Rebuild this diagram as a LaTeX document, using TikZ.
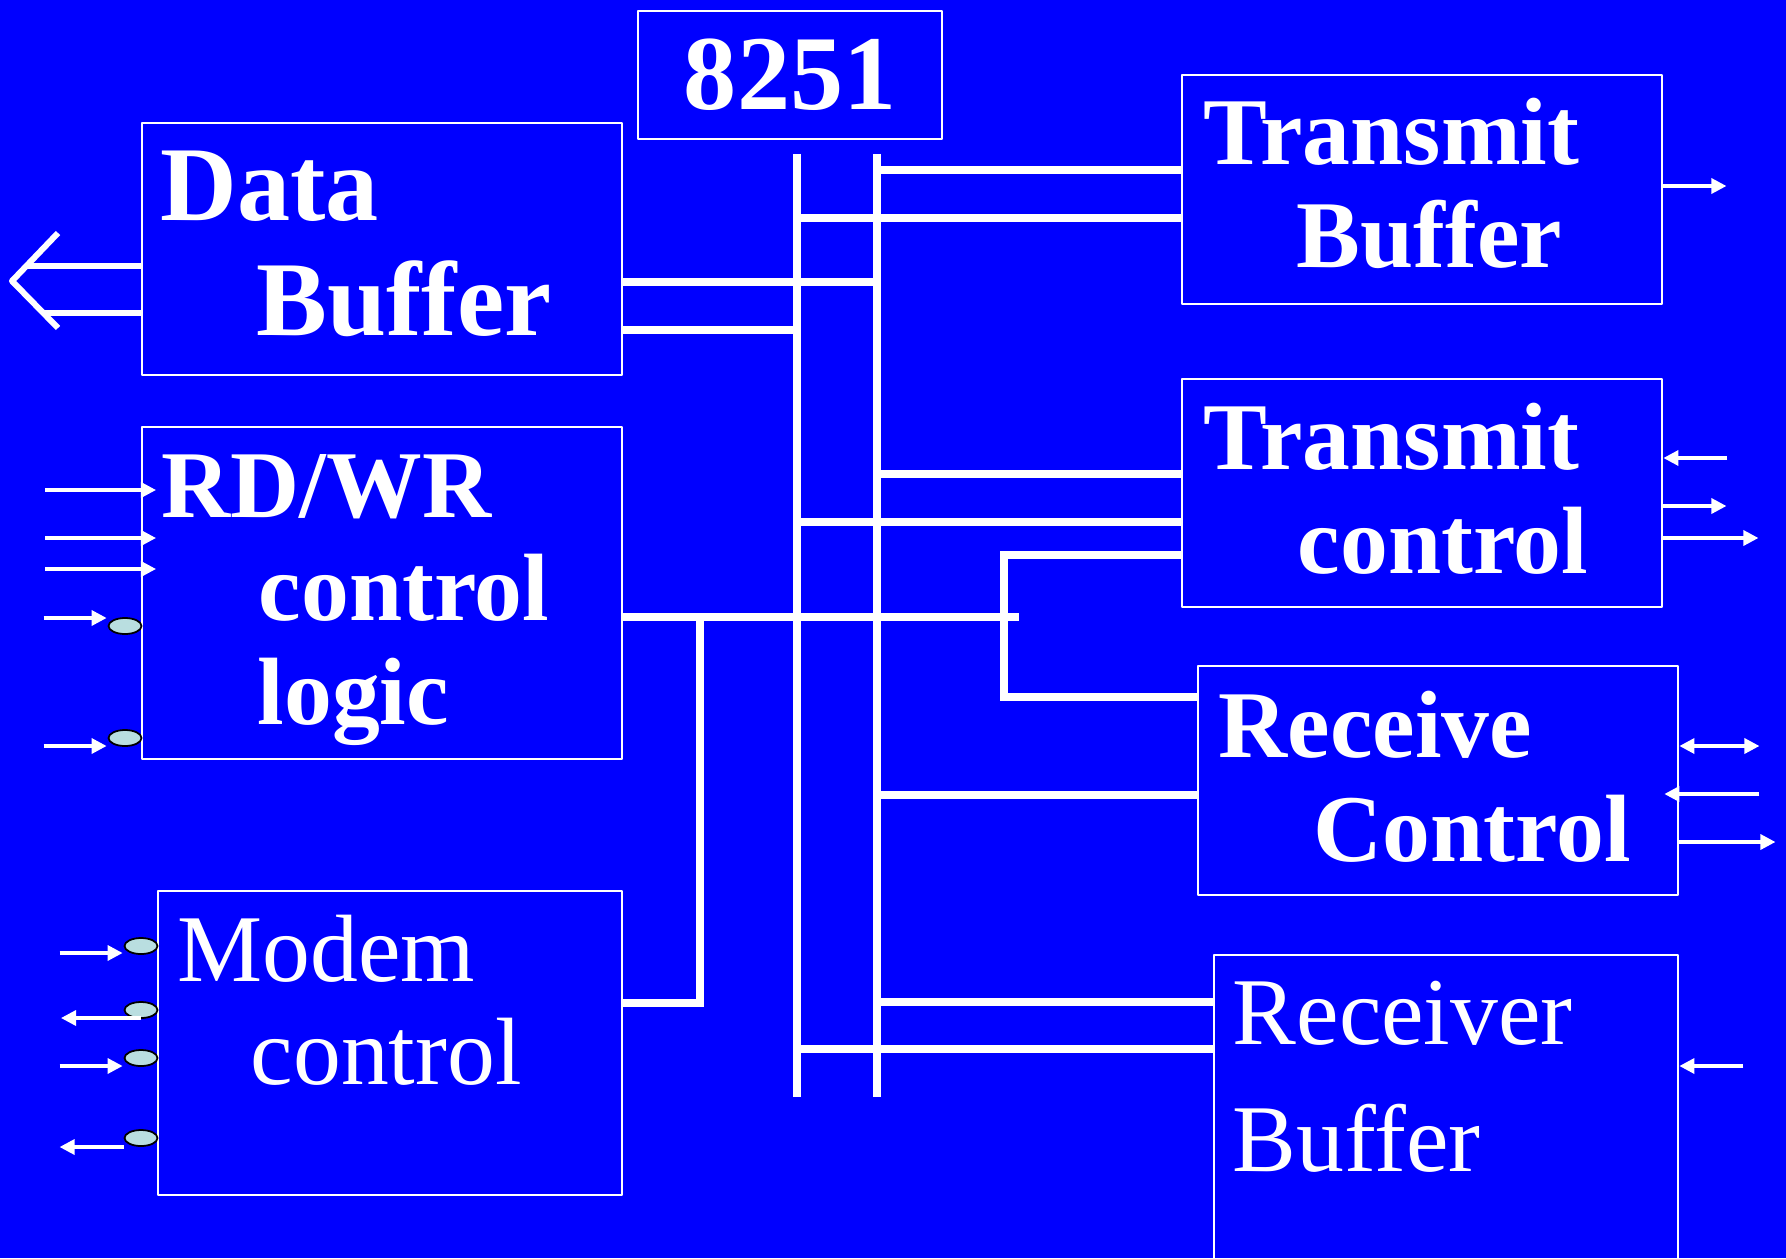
\documentclass[tikz,border=0pt]{standalone}
\usepackage{fontspec}
\setmainfont{Liberation Serif}
\usetikzlibrary{arrows.meta,shapes.geometric}
\definecolor{slideblue}{RGB}{0,0,255}
\definecolor{pinfill}{RGB}{185,222,224}
\newcommand\lblbig{\fontsize{30.2}{32}\selectfont\bfseries}
\newcommand\lblbf{\fontsize{27.2}{30}\selectfont\bfseries}
\newcommand\lblrm{\fontsize{27.2}{30}\selectfont}

\begin{document}
\begin{tikzpicture}[x=0.01cm, y=-0.01cm, line join=round, >={Triangle[length=0.15cm, width=0.15cm]},
		blk/.style={draw=white, line width=0.6pt, anchor=north west, inner sep=0pt, text=white},
		bus/.style={white, line width=2.3pt, line join=miter},
		sig/.style={white, line width=0.95pt, ->},
		pin/.style={ellipse, draw=black, line width=0.5pt, fill=pinfill, minimum width=0.33cm, minimum height=0.16cm, inner sep=0pt},
		lbl/.style={text=white, inner sep=0pt, anchor=base west}]
		\fill[slideblue] (0,0) rectangle (1786,1258);
		\useasboundingbox (0,0) rectangle (1786,1258);
		% blocks
		\node[blk, minimum width=3.04cm, minimum height=1.28cm, font=\lblbig] (chip) at (637,10) {8251};
		\node[blk, minimum width=4.80cm, minimum height=2.52cm] (db) at (141,122) {};
		\node[blk, minimum width=4.80cm, minimum height=3.32cm] (rw) at (141,426) {};
		\node[blk, minimum width=4.64cm, minimum height=3.04cm] (modem) at (157,890) {};
		\node[blk, minimum width=4.80cm, minimum height=2.29cm] (tb) at (1181,74) {};
		\node[blk, minimum width=4.80cm, minimum height=2.28cm] (tc) at (1181,378) {};
		\node[blk, minimum width=4.80cm, minimum height=2.29cm] (rc) at (1197,665) {};
		\node[blk, minimum width=4.64cm, minimum height=3.30cm] (rb) at (1213,954) {};
		% labels
		\node[lbl, font=\lblbig] (dbA) at (160,221) {Data};
		\node[lbl, font=\lblbig] (dbB) at (256,336) {Buffer};
		\node[lbl, font=\lblbf] (rwA) at (161,517) {RD/WR};
		\node[lbl, font=\lblbf] (rwB) at (258,620) {control};
		\node[lbl, font=\lblbf] (rwC) at (257,724) {logic};
		\node[lbl, font=\lblrm] (modemA) at (177,981) {Modem};
		\node[lbl, font=\lblrm] (modemB) at (250,1084) {control};
		\node[lbl, font=\lblbf] (tbA) at (1203,165) {Transmit};
		\node[lbl, font=\lblbf] (tbB) at (1296,268) {Buffer};
		\node[lbl, font=\lblbf] (tcA) at (1203,469) {Transmit};
		\node[lbl, font=\lblbf] (tcB) at (1297,573) {control};
		\node[lbl, font=\lblbf] (rcA) at (1218,757) {Receive};
		\node[lbl, font=\lblbf] (rcB) at (1313,861) {Control};
		\node[lbl, font=\lblrm] (rbA) at (1232,1044) {Receiver};
		\node[lbl, font=\lblrm] (rbB) at (1232,1171) {Buffer};
		% internal bus
		\coordinate (busA) at (797,154);
		\coordinate (busB) at (877,154);
		\draw[bus] (busA) -- ++(0,943);
		\draw[bus] (busB) -- ++(0,943);
		\draw[bus] (busB |- 0,170) -- (tb.west |- 0,170);
		\draw[bus] (busA |- 0,218) -- (tb.west |- 0,218);
		\draw[bus] (db.east |- 0,282) -- (busB |- 0,282);
		\draw[bus] (db.east |- 0,330) -- (busA |- 0,330);
		\draw[bus] (busB |- 0,474) -- (tc.west |- 0,474);
		\draw[bus] (busA |- 0,522) -- (tc.west |- 0,522);
		\draw[bus] (tc.west |- 0,555) -| (1004,697) -- (rc.west |- 0,697);
		\draw[bus] (rw.east |- 0,617) -- (1019,617);
		\draw[bus] (modem.east |- 0,1003) -| (700,617);
		\draw[bus] (busB |- 0,795) -- (rc.west |- 0,795);
		\draw[bus] (busB |- 0,1002) -- (rb.west |- 0,1002);
		\draw[bus] (busA |- 0,1049) -- (rb.west |- 0,1049);
		% data bus out
		\coordinate (dtip) at (12,281);
		\draw[white, line width=0.06cm] (db.west |- 0,266) -- (28,266);
		\draw[white, line width=0.06cm] (db.west |- 0,313) -- (44,313);
		\draw[white, line width=0.06cm] (dtip) ++(46,-48) -- (dtip) -- ++(46,47);
		% control inputs
		\foreach \y in {490,538,569}
			\draw[sig] (rw.west |- 0,\y) ++(-96,0) -- ++(111,0);
		\node[pin] (p1) at (125,626) {};
		\node[pin] (p2) at (125,738) {};
		\draw[sig] (p1.west) ++(-64,-8) -- ++(63,0);
		\draw[sig] (p2.west) ++(-64,8) -- ++(63,0);
		% modem pins
		\node[pin] (m1) at (141,946) {};
		\node[pin] (m2) at (141,1010) {};
		\node[pin] (m3) at (141,1058) {};
		\node[pin] (m4) at (141,1138) {};
		\draw[sig] (m1.west) ++(-64,7) -- ++(63,0);
		\draw[sig] (m2) ++(0,8) -- ++(-80,0);
		\draw[sig] (m3.west) ++(-64,8) -- ++(63,0);
		\draw[sig] (m4.west) ++(0,9) -- ++(-64,0);
		% outputs on the right
		\draw[sig] (tb.east |- 0,186) -- ++(63,0);
		\draw[sig] (tc.east |- 0,458) ++(64,0) -- ++(-64,0);
		\draw[sig] (tc.east |- 0,506) -- ++(63,0);
		\draw[sig] (tc.east |- 0,538) -- ++(95,0);
		\draw[sig, <->] (rc.east |- 0,746) -- ++(80,0);
		\draw[sig] (rc.east |- 0,794) ++(80,0) -- ++(-95,0);
		\draw[sig] (rc.east |- 0,842) -- ++(96,0);
		\draw[sig] (rb.east |- 0,1066) ++(64,0) -- ++(-64,0);
	\end{tikzpicture}
\end{document}
